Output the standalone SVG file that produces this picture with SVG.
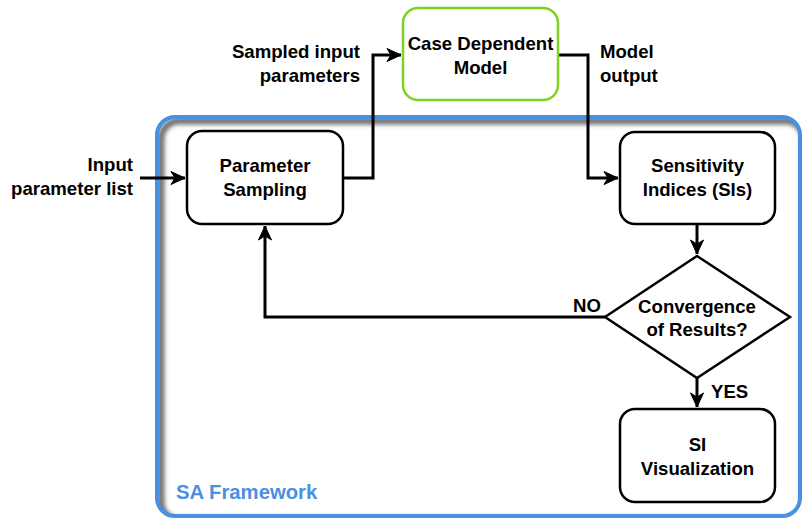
<svg xmlns="http://www.w3.org/2000/svg" width="802" height="521" viewBox="0 0 802 521">
<defs>
<style>
.t{font-family:"Liberation Sans",Arial,Helvetica,sans-serif;font-weight:bold;font-size:18.6px;fill:#000}
.c{text-anchor:middle}
.e{text-anchor:end}
.box{fill:#fff;stroke:#000;stroke-width:2.5}
.ln{fill:none;stroke:#000;stroke-width:3;stroke-linejoin:miter}
</style>
<marker id="arr" markerUnits="userSpaceOnUse" markerWidth="16" markerHeight="16" viewBox="0 0 16 16" refX="15" refY="8" orient="auto">
<path d="M1,1.5 L15,8 L1,14.5 L5,8 Z" fill="#000" stroke="#000" stroke-width="1"/>
</marker>
<filter id="blur" x="-5%" y="-5%" width="110%" height="110%"><feGaussianBlur stdDeviation="2"/></filter>
<clipPath id="inner"><rect x="157" y="117" width="643" height="399" rx="18"/></clipPath>
</defs>
<rect width="802" height="521" fill="#fff"/>
<g id="frame">
<g clip-path="url(#inner)">
<rect x="161" y="121" width="643" height="399" rx="18" fill="none" stroke="#6e6e6e" stroke-width="7" filter="url(#blur)"/>
</g>
<rect x="157" y="117" width="643" height="399" rx="18" fill="none" stroke="#4A90E2" stroke-width="4"/>
<text class="t" x="176" y="499" style="font-size:20.3px;fill:#4A90E2">SA Framework</text>
</g>
<g id="connectors">
<path class="ln" d="M140,178 H185" marker-end="url(#arr)"/>
<path class="ln" d="M343,178 H373 V55 H401" marker-end="url(#arr)"/>
<path class="ln" d="M558,55 H588 V178 H618" marker-end="url(#arr)"/>
<path class="ln" d="M697,225 V254" marker-end="url(#arr)"/>
<path class="ln" d="M605,317 H265 V226" marker-end="url(#arr)"/>
<path class="ln" d="M697,378 V407" marker-end="url(#arr)"/>
<text class="t e" x="133" y="171">Input</text>
<text class="t e" x="133" y="195">parameter list</text>
<text class="t e" x="360" y="58">Sampled input</text>
<text class="t e" x="360" y="82">parameters</text>
<text class="t" x="600" y="58">Model</text>
<text class="t" x="600" y="82">output</text>
<text class="t e" x="601" y="312">NO</text>
<text class="t" x="711" y="398">YES</text>
</g>
<g id="sampling">
<rect class="box" x="187" y="131" width="156" height="93" rx="15"/>
<text class="t c" x="265" y="172">Parameter</text>
<text class="t c" x="265" y="196">Sampling</text>
</g>
<g id="model">
<rect class="box" x="403" y="8" width="155" height="92" rx="15" style="stroke:#7ED321"/>
<text class="t c" x="480.5" y="49.5">Case Dependent</text>
<text class="t c" x="480.5" y="73.5">Model</text>
</g>
<g id="sensitivity">
<rect class="box" x="620" y="132" width="155" height="92" rx="15"/>
<text class="t c" x="697.5" y="172">Sensitivity</text>
<text class="t c" x="697.5" y="196">Indices (SIs)</text>
</g>
<g id="convergence">
<path class="box" d="M697,256 L790,317 L697,378 L605,317 Z"/>
<text class="t c" x="697" y="313">Convergence</text>
<text class="t c" x="697" y="336">of Results?</text>
</g>
<g id="visualization">
<rect class="box" x="620" y="409" width="155" height="93" rx="15"/>
<text class="t c" x="697.5" y="451">SI</text>
<text class="t c" x="697.5" y="475">Visualization</text>
</g>
</svg>
